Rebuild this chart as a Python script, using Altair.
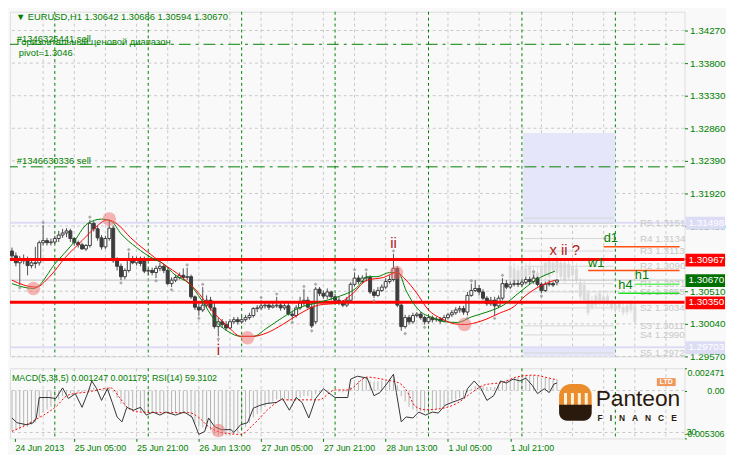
import altair as alt
import pandas as pd

GREEN = "#008000"
BG = "#f9f9f9"
FONT = "Liberation Sans"
W, H_MAIN, H_SUB = 683, 349, 71

# ---------------- time axis (bar index; 0 = 24 Jun 2013 13:00, H1 bars) ----------------
X_DOMAIN = [0.75, 171.5]
x_label_bars = [0.75, 16, 32, 48, 64, 80, 96, 112, 128]
x_labels = ["24 Jun 2013", "25 Jun 05:00", "25 Jun 21:00", "26 Jun 13:00", "27 Jun 05:00",
            "27 Jun 21:00", "28 Jun 13:00", "1 Jul 05:00", "1 Jul 21:00"]
grid_bars = [8, 16, 24, 32, 40, 48, 56, 64, 72, 80, 88, 96, 104, 112, 120, 128, 136, 144, 152, 160, 168]
day_bars = [11, 35, 59, 83, 107, 131, 155]

# ---------------- price axis ----------------
Y_DOMAIN = [1.2957, 1.3454]
price_ticks = [1.2957, 1.3004, 1.3051, 1.3098, 1.3145, 1.3192, 1.3239, 1.3286, 1.3333, 1.3380, 1.3427]

# ---------------- EURUSD H1 candles ----------------
opens = [1.3109, 1.3102, 1.3092, 1.3098, 1.3095, 1.3088, 1.3092, 1.3092, 1.3121, 1.3124,
         1.3121, 1.3122, 1.3127, 1.3132, 1.3135, 1.3138, 1.3127, 1.3121, 1.3118, 1.3112,
         1.3117, 1.3149, 1.3141, 1.3128, 1.3115, 1.3127, 1.3142, 1.3095, 1.3087, 1.3072,
         1.3081, 1.3098, 1.3092, 1.3097, 1.3098, 1.3080, 1.3081, 1.3078, 1.3084, 1.3087,
         1.3081, 1.3062, 1.3067, 1.3071, 1.3074, 1.3071, 1.3072, 1.3043, 1.3028, 1.3024,
         1.3031, 1.3038, 1.3027, 1.3000, 1.3007, 1.3003, 1.2998, 1.3007, 1.3010, 1.3007,
         1.3010, 1.3013, 1.3016, 1.3026, 1.3027, 1.3030, 1.3031, 1.3028, 1.3030, 1.3031,
         1.3027, 1.3030, 1.3018, 1.3016, 1.3027, 1.3034, 1.3038, 1.3028, 1.3007, 1.3054,
         1.3048, 1.3044, 1.3050, 1.3043, 1.3038, 1.3034, 1.3031, 1.3038, 1.3061, 1.3070,
         1.3065, 1.3070, 1.3071, 1.3050, 1.3045, 1.3052, 1.3057, 1.3065, 1.3068, 1.3084,
         1.3031, 1.3000, 1.3013, 1.3007, 1.3016, 1.3018, 1.3013, 1.3007, 1.3013, 1.3010,
         1.3011, 1.3008, 1.3013, 1.3017, 1.3020, 1.3024, 1.3026, 1.3021, 1.3045, 1.3052,
         1.3055, 1.3050, 1.3041, 1.3033, 1.3038, 1.3030, 1.3041, 1.3062, 1.3057, 1.3061,
         1.3062, 1.3061, 1.3064, 1.3068, 1.3065, 1.3070, 1.3061, 1.3052, 1.3061, 1.3062,
         1.30642]
highs = [1.3114, 1.3107, 1.3102, 1.3104, 1.3101, 1.3098, 1.3115, 1.3124, 1.3146, 1.3128,
         1.3127, 1.3131, 1.3138, 1.3141, 1.3142, 1.3141, 1.3129, 1.3124, 1.3121, 1.3119,
         1.3154, 1.3152, 1.3145, 1.3132, 1.3131, 1.3154, 1.3146, 1.3100, 1.3091, 1.3084,
         1.3107, 1.3102, 1.3101, 1.3101, 1.3101, 1.3084, 1.3085, 1.3088, 1.3092, 1.3090,
         1.3084, 1.3071, 1.3075, 1.3078, 1.3084, 1.3085, 1.3075, 1.3045, 1.3033, 1.3057,
         1.3045, 1.3043, 1.3035, 1.3013, 1.3011, 1.3008, 1.3011, 1.3014, 1.3014, 1.3016,
         1.3017, 1.3020, 1.3028, 1.3031, 1.3038, 1.3035, 1.3034, 1.3034, 1.3043, 1.3035,
         1.3034, 1.3034, 1.3022, 1.3031, 1.3043, 1.3054, 1.3043, 1.3033, 1.3057, 1.3057,
         1.3052, 1.3055, 1.3052, 1.3047, 1.3043, 1.3038, 1.3043, 1.3064, 1.3078, 1.3074,
         1.3074, 1.3078, 1.3074, 1.3054, 1.3057, 1.3061, 1.3070, 1.3074, 1.3105, 1.3087,
         1.3034, 1.3017, 1.3017, 1.3020, 1.3021, 1.3021, 1.3016, 1.3017, 1.3016, 1.3014,
         1.3014, 1.3017, 1.3020, 1.3024, 1.3028, 1.3030, 1.3030, 1.3050, 1.3062, 1.3067,
         1.3060, 1.3054, 1.3044, 1.3043, 1.3043, 1.3045, 1.3070, 1.3067, 1.3065, 1.3067,
         1.3067, 1.3068, 1.3072, 1.3072, 1.3075, 1.3072, 1.3064, 1.3065, 1.3067, 1.3065,
         1.30686]
lows = [1.3098, 1.3087, 1.3060, 1.3090, 1.3074, 1.3084, 1.3084, 1.3088, 1.3117, 1.3117,
        1.3117, 1.3119, 1.3122, 1.3128, 1.3129, 1.3122, 1.3117, 1.3114, 1.3111, 1.3109,
        1.3114, 1.3137, 1.3124, 1.3111, 1.3112, 1.3124, 1.3092, 1.3081, 1.3067, 1.3068,
        1.3078, 1.3090, 1.3088, 1.3087, 1.3077, 1.3074, 1.3074, 1.3070, 1.3080, 1.3077,
        1.3060, 1.3057, 1.3064, 1.3068, 1.3067, 1.3067, 1.3040, 1.3024, 1.3016, 1.3021,
        1.3027, 1.3023, 1.2997, 1.2986, 1.2998, 1.2994, 1.2996, 1.3004, 1.3003, 1.3004,
        1.3007, 1.3010, 1.3013, 1.3021, 1.3024, 1.3026, 1.3024, 1.3026, 1.3027, 1.3023,
        1.3024, 1.3016, 1.3010, 1.3013, 1.3024, 1.3030, 1.3026, 1.2998, 1.3004, 1.3044,
        1.3040, 1.3040, 1.3038, 1.3034, 1.3031, 1.3028, 1.3028, 1.3035, 1.3058, 1.3061,
        1.3062, 1.3065, 1.3047, 1.3041, 1.3043, 1.3050, 1.3054, 1.3062, 1.3065, 1.3028,
        1.2994, 1.2997, 1.3003, 1.3004, 1.3013, 1.3010, 1.3003, 1.3004, 1.3006, 1.3007,
        1.3004, 1.3006, 1.3010, 1.3014, 1.3017, 1.3020, 1.3017, 1.3016, 1.3043, 1.3050,
        1.3045, 1.3038, 1.3030, 1.3030, 1.3016, 1.3027, 1.3038, 1.3054, 1.3054, 1.3058,
        1.3057, 1.3058, 1.3061, 1.3061, 1.3062, 1.3058, 1.3048, 1.3050, 1.3058, 1.3057,
        1.30594]
closes = [1.3102, 1.3092, 1.3098, 1.3095, 1.3088, 1.3092, 1.3091, 1.3121, 1.3124, 1.3121,
          1.3122, 1.3127, 1.3132, 1.3135, 1.3138, 1.3127, 1.3121, 1.3118, 1.3112, 1.3117,
          1.3149, 1.3141, 1.3128, 1.3115, 1.3127, 1.3142, 1.3095, 1.3087, 1.3072, 1.3081,
          1.3098, 1.3092, 1.3097, 1.3091, 1.3080, 1.3081, 1.3078, 1.3084, 1.3087, 1.3081,
          1.3062, 1.3067, 1.3071, 1.3074, 1.3071, 1.3072, 1.3043, 1.3028, 1.3024, 1.3031,
          1.3038, 1.3027, 1.3000, 1.3007, 1.3003, 1.2998, 1.3007, 1.3010, 1.3007, 1.3010,
          1.3013, 1.3016, 1.3026, 1.3027, 1.3030, 1.3031, 1.3028, 1.3030, 1.3031, 1.3027,
          1.3030, 1.3018, 1.3016, 1.3027, 1.3034, 1.3038, 1.3028, 1.3001, 1.3054, 1.3048,
          1.3044, 1.3050, 1.3043, 1.3038, 1.3034, 1.3031, 1.3038, 1.3061, 1.3070, 1.3065,
          1.3070, 1.3071, 1.3050, 1.3045, 1.3052, 1.3057, 1.3065, 1.3068, 1.3084, 1.3031,
          1.3000, 1.3013, 1.3007, 1.3016, 1.3018, 1.3013, 1.3007, 1.3013, 1.3010, 1.3011,
          1.3008, 1.3013, 1.3017, 1.3020, 1.3024, 1.3026, 1.3021, 1.3045, 1.3052, 1.3055,
          1.3050, 1.3041, 1.3033, 1.3038, 1.3030, 1.3041, 1.3062, 1.3057, 1.3061, 1.3062,
          1.3061, 1.3064, 1.3068, 1.3065, 1.3070, 1.3061, 1.3052, 1.3061, 1.3062, 1.3060,
          1.30670]

# ---------------- projected (ghost) candles ----------------
ghost_bars = [128, 129, 130, 131, 132, 133, 134, 135, 136, 137, 138, 139, 140, 141, 142, 143, 144,
              145, 146, 147, 148, 149, 150, 151, 152, 153, 154, 155, 156, 157, 158, 159, 160]
ghost_body_hi = [1.3088, 1.3084, 1.3081, 1.3084, 1.3084, 1.3087, 1.3081, 1.3078, 1.3087, 1.3092, 1.3095,
                 1.3092, 1.3095, 1.3092, 1.3092, 1.3090, 1.3087, 1.3084, 1.3064, 1.3060, 1.3048, 1.3038,
                 1.3045, 1.3048, 1.3043, 1.3044, 1.3034, 1.3031, 1.3033, 1.3028, 1.3030, 1.3034, 1.3030]
ghost_body_lo = [1.3070, 1.3062, 1.3067, 1.3070, 1.3072, 1.3074, 1.3070, 1.3064, 1.3072, 1.3074, 1.3072,
                 1.3081, 1.3077, 1.3072, 1.3067, 1.3071, 1.3074, 1.3067, 1.3043, 1.3038, 1.3020, 1.3028,
                 1.3031, 1.3034, 1.3033, 1.3034, 1.3027, 1.3024, 1.3026, 1.3020, 1.3021, 1.3024, 1.3007]
ghost_high = [1.3098, 1.3092, 1.3088, 1.3092, 1.3092, 1.3095, 1.3088, 1.3087, 1.3095, 1.3098, 1.3102,
              1.3098, 1.3101, 1.3098, 1.3098, 1.3095, 1.3092, 1.3092, 1.3070, 1.3067, 1.3052, 1.3044,
              1.3048, 1.3052, 1.3047, 1.3048, 1.3038, 1.3035, 1.3038, 1.3034, 1.3035, 1.3038, 1.3035]
ghost_low = [1.3064, 1.3060, 1.3062, 1.3065, 1.3067, 1.3068, 1.3065, 1.3061, 1.3068, 1.3067, 1.3067,
             1.3074, 1.3070, 1.3067, 1.3062, 1.3067, 1.3064, 1.3061, 1.3038, 1.3034, 1.3016, 1.3024,
             1.3027, 1.3030, 1.3027, 1.3030, 1.3023, 1.3020, 1.3021, 1.3016, 1.3017, 1.3020, 1.3003]

# ---------------- moving averages ----------------
ma_fast_bar = [0, 5.5, 11.25, 15.5, 19.5, 23, 25.5, 28, 32, 36.25, 38.75, 42, 45.5, 48.75, 52, 55.5,
               58.75, 62, 65.5, 69.5, 73.75, 78.75, 83.75, 88.75, 91.25, 93.75, 97, 99.25, 101.25,
               104.5, 108, 111.25, 114.5, 118, 122, 126.25, 130.5, 134.5, 139.5]
ma_fast_val = [1.3062, 1.3055, 1.3092, 1.3119, 1.3149, 1.3155, 1.3152, 1.3134, 1.3114, 1.3098,
               1.3091, 1.3074, 1.3062, 1.3038, 1.3010, 1.2993, 1.2986, 1.2986, 1.2998, 1.3013,
               1.3027, 1.3035, 1.3043, 1.3057, 1.3072, 1.3072, 1.3078, 1.3078, 1.3052, 1.3024,
               1.3013, 1.3007, 1.3006, 1.3014, 1.3021, 1.3031, 1.3050, 1.3067, 1.3080]
ma_slow_bar = [0, 3, 6.25, 9.5, 13.75, 18, 21.25, 24.5, 27, 30.5, 34.5, 38.75, 43.75, 48, 51.25, 55.5,
               58.75, 62, 65.5, 69.5, 73.75, 78.75, 83.75, 87, 91.25, 95.5, 98.75, 101.25, 103.75,
               107, 110.5, 113.75, 116.25, 120.5, 125.5, 128.75, 132, 136.25, 139.5]
ma_slow_val = [1.3067, 1.3060, 1.3057, 1.3071, 1.3100, 1.3124, 1.3142, 1.3154, 1.3148, 1.3128,
               1.3109, 1.3091, 1.3071, 1.3048, 1.3024, 1.3000, 1.2986, 1.2986, 1.2991, 1.3003,
               1.3018, 1.3031, 1.3034, 1.3045, 1.3067, 1.3071, 1.3078, 1.3067, 1.3050, 1.3024,
               1.3011, 1.3004, 1.3003, 1.3008, 1.3020, 1.3028, 1.3045, 1.3060, 1.3067]

# ---------------- fractals ----------------
up_fr_bar = [8, 20, 30, 45, 49, 64, 68, 75, 78, 88, 91, 98, 118, 126, 134]
up_fr_val = [1.3150, 1.3158, 1.3111, 1.3089, 1.3061, 1.3042, 1.3047, 1.3058, 1.3061, 1.3082,
             1.3082, 1.3109, 1.3066, 1.3074, 1.3079]
dn_fr_bar = [2, 28, 37, 41, 48, 53, 72, 77, 93, 101, 106, 117, 124, 136]
dn_fr_val = [1.3056, 1.3063, 1.3066, 1.3053, 1.3012, 1.2982, 1.3006, 1.2994, 1.3037, 1.2990,
             1.2999, 1.3012, 1.3012, 1.3044]

# ---------------- swing highlights ----------------
swing_bar = [5.5, 25, 60.5, 98.75, 116.25]
swing_val = [1.3055, 1.3155, 1.2984, 1.3078, 1.3003]

# ---------------- levels ----------------
red_levels = [1.30967, 1.30350]
lavender_levels = [1.31498, 1.29703]
bid_level = 1.30670
order_levels = [1.34071, 1.32304]
pivot_names = ["R5 1.3151", "R4 1.3134", "R3 1.3113", "R2 1.3090", "R1 1.3071",
               "S1 1.3055", "S2 1.3034", "S3 1.3011", "S4 1.2990", "S5 1.2972"]
pivot_vals = [1.3149, 1.3127, 1.3109, 1.3087, 1.3062, 1.3050, 1.3027, 1.3001, 1.2988, 1.2962]
seg_names = ["d1", "w1", "h1", "h4"]
seg_start = [152, 148, 160, 155.75]
seg_val = [1.3115, 1.3081, 1.3061, 1.3048]
seg_label_val = [1.3127, 1.3092, 1.3074, 1.3060]
seg_colors = ["#ff5010", "#ff5010", "#66ee66", "#22dd22"]
box_vals = [1.31498, 1.30967, 1.30670, 1.30350, 1.29703]
box_text = ["1.31498", "1.30967", "1.30670", "1.30350", "1.29703"]
box_colors = ["#dcdcf4", "#ff0000", "#007000", "#ff0000", "#dcdcf4"]

# ---------------- MACD(5,34,5) / RSI(14) sub-window ----------------
macd_hist = [-0.0045, -0.0044, -0.0043, -0.0041, -0.0040, -0.0038, -0.0035, -0.0030, -0.0025, -0.0021,
             -0.0018, -0.0014, -0.0010, -0.0006, -0.0004, -0.0003, -0.0003, -0.0003, -0.0002, 0.0001,
             0.0003, 0.0003, 0.0002, 0.0001, 0.0002, 0.0004, -0.0002, -0.0008, -0.0015, -0.0018,
             -0.0018, -0.0020, -0.0021, -0.0023, -0.0025, -0.0025, -0.0025, -0.0025, -0.0024, -0.0024,
             -0.0026, -0.0026, -0.0025, -0.0024, -0.0024, -0.0025, -0.0030, -0.0036, -0.0040, -0.0041,
             -0.0042, -0.0044, -0.0049, -0.0050, -0.0050, -0.0050, -0.0049, -0.0048, -0.0046, -0.0043,
             -0.0040, -0.0036, -0.0030, -0.0026, -0.0022, -0.0018, -0.0015, -0.0012, -0.0010, -0.0009,
             -0.0009, -0.0011, -0.0012, -0.0010, -0.0008, -0.0006, -0.0006, -0.0010, -0.0004, -0.0002,
             -0.0001, 0.0000, 0.0000, 0.0000, -0.0001, -0.0002, -0.0001, 0.0004, 0.0009, 0.0011,
             0.0013, 0.0014, 0.0011, 0.0010, 0.0010, 0.0011, 0.0012, 0.0013, 0.0015, 0.0006,
             -0.0006, -0.0012, -0.0018, -0.0021, -0.0022, -0.0023, -0.0024, -0.0023, -0.0022, -0.0021,
             -0.0019, -0.0017, -0.0015, -0.0012, -0.0010, -0.0008, -0.0007, -0.0002, 0.0002, 0.0005,
             0.0006, 0.0005, 0.0004, 0.0004, 0.0004, 0.0006, 0.0010, 0.0012, 0.0013, 0.0014,
             0.0015, 0.0016, 0.0017, 0.0017, 0.0017, 0.0016, 0.0014, 0.0014, 0.0013, 0.0012,
             0.001247]
signal_bar = [0, 7, 11.25, 14.5, 19.5, 25.5, 27.5, 29.5, 32, 38, 45.5, 48, 50.5, 53.75, 58.75, 62,
              66.25, 69.5, 78.75, 83, 86.25, 91.25, 96.25, 99.5, 101.25, 103.75, 106.25, 111.25,
              114.5, 118, 121.25, 126.25, 129.5, 133.75, 138, 140]
signal_val = [-0.00453, -0.00300, -0.00180, -0.00048, -0.00015, 0.00028, -0.00070, -0.00180, -0.00234,
              -0.00245, -0.00245, -0.00300, -0.00399, -0.00464, -0.00486, -0.00377, -0.00191, -0.00103,
              -0.00103, 0.00007, 0.00007, 0.00149, 0.00116, 0.00083, 0.00007, -0.00180, -0.00213,
              -0.00191, -0.00136, -0.00026, 0.00061, 0.00094, 0.00149, 0.00171, 0.00138, 0.001179]
rsi_bar = [0, 1.25, 3.75, 5.5, 6.25, 7, 9.5, 11.25, 13, 14.5, 16.25, 18, 19.5, 20.5, 21.75, 23, 24.5,
           25.75, 27, 28.25, 29.5, 31.25, 33, 34.5, 36.25, 38, 39.5, 42, 44.25, 46.25, 48, 49.5, 50.5,
           52, 53.75, 56.25, 57, 58.75, 60.5, 62, 63.75, 65.5, 68, 69.5, 71.25, 73, 74.5, 76.25, 78,
           80, 81.25, 83, 86.25, 87, 88.75, 91.25, 93, 94.5, 96.25, 98, 98.75, 100, 101.25, 103,
           104.5, 106.25, 108, 109.5, 111.25, 113, 114.5, 116.25, 117, 118.75, 120.5, 122, 123.75,
           125.5, 127, 128.75, 130.5, 132, 133.75, 135, 136.75, 138, 139.25, 140]
rsi_val = [38.6, 35.8, 34.6, 35.8, 38.6, 50.7, 50.7, 50.1, 56.4, 50.1, 53.0, 44.9, 53.6, 60.5, 55.9,
           49.0, 55.9, 47.8, 39.2, 36.3, 44.9, 43.2, 44.9, 40.3, 42.1, 40.3, 42.1, 40.3, 42.1, 39.2,
           28.9, 30.6, 38.6, 33.5, 31.7, 31.7, 30.0, 34.6, 35.8, 44.4, 46.1, 47.2, 47.8, 50.1, 43.2,
           50.7, 47.8, 38.6, 50.1, 55.9, 53.6, 50.7, 50.7, 61.6, 63.3, 62.2, 51.8, 53.6, 58.7, 64.5,
           53.6, 36.3, 39.2, 38.6, 42.1, 40.3, 42.1, 41.5, 46.1, 47.8, 49.0, 50.7, 55.9, 60.5, 55.9,
           49.0, 51.8, 60.5, 59.3, 61.6, 60.5, 62.2, 57.6, 53.0, 55.9, 53.6, 58.7, 59.31]
MACD_DOMAIN = [-0.005306, 0.002471]
RSI_DOMAIN = [26.5, 68.0]     # RSI range covered by the same sub-window height
macd_ticks = [-0.005306, 0.0, 0.002471]

# =====================================================================
xs = alt.Scale(domain=X_DOMAIN, nice=False, zero=False)
ys = alt.Scale(domain=Y_DOMAIN, nice=False, zero=False)
ms = alt.Scale(domain=MACD_DOMAIN, nice=False, zero=False)

RSI_TO_MACD = ("%r + (datum.r - %r) / %r * %r" %
               (MACD_DOMAIN[0], RSI_DOMAIN[0], RSI_DOMAIN[1] - RSI_DOMAIN[0],
                MACD_DOMAIN[1] - MACD_DOMAIN[0]))

AX_PRICE = alt.Axis(orient="right", values=price_ticks, format=".5f", title=None,
                    labelColor=GREEN, tickColor=GREEN, tickSize=3, labelPadding=2,
                    labelFontSize=10, labelFont=FONT, domain=False, grid=False,
                    labelOverlap=False, labelFlush=False)
xlab_expr = "[" + ",".join("'%s'" % s for s in x_labels) + "][round(datum.value / 16)]"
AX_TIME = alt.Axis(values=x_label_bars, labelExpr=xlab_expr, labelAlign="left",
                   labelColor=GREEN, tickColor=GREEN, tickSize=3, labelPadding=2,
                   labelFontSize=9, labelFont=FONT, domain=False, grid=False,
                   labelOverlap=False, labelFlush=False, title=None)
macd_expr = ("datum.value < 0 ? '-0.005306' : (datum.value > 0 ? '0.002471' : '0.00"
             + "\u00a0" * 9 + "')")
AX_MACD = alt.Axis(orient="right", values=macd_ticks, labelExpr=macd_expr,
                   labelAlign="right", labelColor=GREEN, tickColor=GREEN,
                   tickSize=2, labelPadding=38, labelFontSize=9, labelFont=FONT,
                   domain=False, grid=False, labelOverlap=False,
                   labelFlush=True, title=None)


def XM(f):   # x in the price window (no axis drawn)
    return alt.X(f, type="quantitative", scale=xs, axis=None)


def XS(f):   # x in the sub window (time axis)
    return alt.X(f, type="quantitative", scale=xs, axis=AX_TIME)


def Y(f):
    return alt.Y(f, type="quantitative", scale=ys, axis=AX_PRICE)


def M(f):
    return alt.Y(f, type="quantitative", scale=ms, axis=AX_MACD)


candles = pd.DataFrame({"i": list(range(len(closes))), "o": opens, "h": highs, "l": lows, "c": closes})
ghost = pd.DataFrame({"i": ghost_bars, "bh": ghost_body_hi, "bl": ghost_body_lo,
                      "h": ghost_high, "l": ghost_low})
grid_df = pd.DataFrame({"g": grid_bars})
day_df = pd.DataFrame({"g": day_bars})

# ---------------- price window ----------------
vgrid = alt.Chart(grid_df).mark_rule(color="#c8c8c8", strokeDash=[3, 3], strokeWidth=1).encode(x=XM("g"))
dayline = alt.Chart(day_df).mark_rule(color=GREEN, strokeDash=[3, 3], strokeWidth=1).encode(x=XM("g"))
hgrid = alt.Chart(pd.DataFrame({"p": price_ticks})).mark_rule(
    color="#c8c8c8", strokeDash=[3, 3], strokeWidth=1).encode(y=Y("p"))

lav_rect = alt.Chart(pd.DataFrame({"x1": [131.25, 131.25], "x2": [155, 155],
                                   "y1": [1.32793, 1.2957], "y2": [1.31498, 1.29703]})).mark_rect(
    color="#e6e6fa").encode(x=XM("x1"), x2="x2", y=Y("y1"), y2="y2")
lav_lines = alt.Chart(pd.DataFrame({"p": lavender_levels})).mark_rule(
    color="#dcdcf4", strokeWidth=2).encode(y=Y("p"))
piv_df = pd.DataFrame({"p": pivot_vals + [1.31564], "a": [131.5] * 11, "b": [154.5] * 11})
pivot_lines = alt.Chart(piv_df).mark_rule(color="#d6d6d6", strokeWidth=1).encode(
    x=XM("a"), x2="b", y=Y("p"))
pivot_text = alt.Chart(pd.DataFrame({"p": pivot_vals, "t": pivot_names, "a": [161.3] * 10})).mark_text(
    align="left", baseline="middle", color="#c8c8c8", fontSize=10, font=FONT).encode(
    x=XM("a"), y=Y("p"), text="t:N")

ghost_wick = alt.Chart(ghost).mark_rule(color="#dadada").encode(x=XM("i"), y=Y("l"), y2="h")
ghost_body = alt.Chart(ghost).mark_bar(width=3, color="#dadada").encode(x=XM("i"), y=Y("bl"), y2="bh")

bid_line = alt.Chart(pd.DataFrame({"p": [bid_level]})).mark_rule(color="#c0c0c0").encode(y=Y("p"))
order_lines = alt.Chart(pd.DataFrame({"p": order_levels})).mark_rule(
    color=GREEN, strokeDash=[12, 5, 3, 5], strokeWidth=1).encode(y=Y("p"))

wick = alt.Chart(candles).mark_rule(color="#505050").encode(x=XM("i"), y=Y("l"), y2="h")
body = alt.Chart(candles).mark_bar(width=3, stroke="#3c3c3c", strokeWidth=1).encode(
    x=XM("i"), y=Y("o"), y2="c",
    color=alt.condition("datum.c >= datum.o", alt.value("#ffffff"), alt.value("#3c3c3c")))

red_lines = alt.Chart(pd.DataFrame({"p": red_levels})).mark_rule(
    color="#ff0000", strokeWidth=3).encode(y=Y("p"))
seg_df = pd.DataFrame({"s": seg_start, "e": [171.5] * 4, "p": seg_val, "lp": seg_label_val,
                       "t": seg_names, "c": seg_colors})
seg_lines = alt.Chart(seg_df).mark_rule(strokeWidth=1.5).encode(
    x=XM("s"), x2="e", y=Y("p"), color=alt.Color("c:N", scale=None))
seg_text = alt.Chart(seg_df).mark_text(align="left", baseline="middle", color=GREEN,
                                       fontSize=13, font=FONT).encode(x=XM("s"), y=Y("lp"), text="t:N")

ma_fast = alt.Chart(pd.DataFrame({"i": ma_fast_bar, "v": ma_fast_val})).mark_line(
    color="#008000", strokeWidth=1, interpolate="monotone").encode(x=XM("i"), y=Y("v"))
ma_slow = alt.Chart(pd.DataFrame({"i": ma_slow_bar, "v": ma_slow_val})).mark_line(
    color="#ff0000", strokeWidth=1, interpolate="monotone").encode(x=XM("i"), y=Y("v"))

swings = alt.Chart(pd.DataFrame({"i": swing_bar, "v": swing_val})).mark_circle(
    size=190, color="#f07070", opacity=0.5).encode(x=XM("i"), y=Y("v"))
fr_up = alt.Chart(pd.DataFrame({"i": up_fr_bar, "v": up_fr_val})).mark_point(
    shape="diamond", size=14, filled=True, color="#8c8c8c").encode(x=XM("i"), y=Y("v"))
fr_dn = alt.Chart(pd.DataFrame({"i": dn_fr_bar, "v": dn_fr_val})).mark_point(
    shape="diamond", size=14, filled=True, color="#8c8c8c").encode(x=XM("i"), y=Y("v"))

wave_df = pd.DataFrame({"i": [98, 53, 142.0], "v": [1.3120, 1.2966, 1.3111], "t": ["ii", "i", "x ii ?"]})
wave_text = alt.Chart(wave_df).mark_text(baseline="middle", align="center", color="#b02020",
                                         fontSize=15, font=FONT).encode(x=XM("i"), y=Y("v"), text="t:N")
wave_mark = alt.Chart(pd.DataFrame({"i": [53], "a": [1.2980], "b": [1.2972]})).mark_rule(
    color="#cc2020", strokeDash=[1, 2]).encode(x=XM("i"), y=Y("a"), y2="b")

info_df = pd.DataFrame({
    "i": [1.0, 1.25, 1.25, 1.75, 1.25],
    "v": [1.34469, 1.34142, 1.34100, 1.33942, 1.32390],
    "t": ["\u25bc EURUSD,H1  1.30642 1.30686 1.30594 1.30670", "#1346326441 sell",
          "\u0413\u043e\u0440\u0438\u0437\u043e\u043d\u0442\u0430\u043b\u044c\u043d\u044b\u0439 \u0446\u0435\u043d\u043e\u0432\u043e\u0439 \u0434\u0438\u0430\u043f\u0430\u0437\u043e\u043d",
          "pivot=1.3046", "#1346630336 sell"]})
info_text = alt.Chart(info_df).mark_text(align="left", baseline="middle", color=GREEN,
                                         fontSize=9.5, font=FONT).encode(x=XM("i"), y=Y("v"), text="t:N")

box_df = pd.DataFrame({"p": box_vals, "t": box_text, "c": box_colors})
boxes = alt.Chart(box_df).mark_rect(clip=False, yOffset=-6, y2Offset=7).encode(
    x=alt.value(W + 1), x2=alt.value(W + 41), y=Y("p"), y2="p", color=alt.Color("c:N", scale=None))
box_txt = alt.Chart(box_df).mark_text(clip=False, align="left", baseline="middle", color="white",
                                      fontSize=10, font=FONT).encode(x=alt.value(W + 4), y=Y("p"), text="t:N")

main = alt.layer(hgrid, vgrid, dayline, lav_rect, lav_lines, pivot_lines, pivot_text, ghost_wick,
                 ghost_body, bid_line, order_lines, wick, body, red_lines, seg_lines, seg_text,
                 ma_fast, ma_slow, swings, fr_up, fr_dn, wave_text, wave_mark, info_text,
                 boxes, box_txt).properties(width=W, height=H_MAIN)

# ---------------- sub window ----------------
hist_df = pd.DataFrame({"i": list(range(len(macd_hist))), "m": macd_hist, "z": [0.0] * len(macd_hist)})
hist = alt.Chart(hist_df).mark_bar(width=1, color="#b4b4b4").encode(x=XS("i"), y=M("m"), y2="z")
s_vgrid = alt.Chart(grid_df).mark_rule(color="#c8c8c8", strokeDash=[3, 3]).encode(x=XS("g"))
s_day = alt.Chart(day_df).mark_rule(color=GREEN, strokeDash=[3, 3]).encode(x=XS("g"))
zero_line = alt.Chart(pd.DataFrame({"m": [0.0]})).mark_rule(color="#c8c8c8", strokeDash=[3, 3]).encode(
    y=M("m"))
rsi30 = alt.Chart(pd.DataFrame({"r": [30.0]})).transform_calculate(m=RSI_TO_MACD).mark_rule(
    color="#c8c8c8", strokeDash=[3, 3]).encode(y=M("m"))
signal = alt.Chart(pd.DataFrame({"i": signal_bar, "m": signal_val})).mark_line(
    color="#ff0000", strokeDash=[2, 2], strokeWidth=1, interpolate="monotone").encode(x=XS("i"), y=M("m"))
rsi = alt.Chart(pd.DataFrame({"i": rsi_bar, "r": rsi_val})).transform_calculate(m=RSI_TO_MACD).mark_line(
    color="#333333", strokeWidth=1).encode(x=XS("i"), y=M("m"))
rsi_swing = alt.Chart(pd.DataFrame({"i": [53], "r": [31.2]})).transform_calculate(m=RSI_TO_MACD).mark_circle(
    size=190, color="#f07070", opacity=0.5).encode(x=XS("i"), y=M("m"))
rsi_lab = alt.Chart(pd.DataFrame({"r": [30.0], "t": ["30"]})).transform_calculate(m=RSI_TO_MACD).mark_text(
    clip=False, align="left", baseline="middle", color=GREEN, fontSize=9, font=FONT).encode(
    x=alt.value(W + 2), y=M("m"), text="t:N")
sub_head = alt.Chart(pd.DataFrame({"t": ["MACD(5,34,5) 0.001247 0.001179\u00a0\u00a0RSI(14) 59.3102"]})).mark_text(
    align="left", baseline="middle", color=GREEN, fontSize=9, font=FONT).encode(
    x=alt.value(2), y=alt.value(10), text="t:N")

one = pd.DataFrame({"k": [0]})
logo_orange = alt.Chart(one).mark_rect(color="#eb8d2c", cornerRadiusTopLeft=14,
                                       cornerRadiusTopRight=14).encode(
    x=alt.value(556), x2=alt.value(589), y=alt.value(16), y2=alt.value(40))
logo_cols = [alt.Chart(one).mark_rect(color="#fff3e0").encode(
    x=alt.value(a), x2=alt.value(a + 3), y=alt.value(25), y2=alt.value(37)) for a in (561, 568, 575, 582)]
logo_dark = alt.Chart(one).mark_rect(color="#2a1a0e", cornerRadiusBottomLeft=8,
                                     cornerRadiusBottomRight=8).encode(
    x=alt.value(556), x2=alt.value(589), y=alt.value(37), y2=alt.value(53))
logo_word = alt.Chart(pd.DataFrame({"t": ["Panteon"]})).mark_text(
    align="left", baseline="middle", color="#2a1a0e", fontSize=23, font=FONT).encode(
    x=alt.value(593), y=alt.value(31), text="t:N")
logo_fin = alt.Chart(pd.DataFrame({"t": ["F\u00a0\u00a0\u00a0I\u00a0\u00a0\u00a0N\u00a0\u00a0\u00a0A\u00a0\u00a0\u00a0N\u00a0\u00a0\u00a0C\u00a0\u00a0\u00a0E"]})).mark_text(
    align="left", baseline="middle", color="#2a1a0e", fontSize=8.5, fontWeight="bold", font=FONT).encode(
    x=alt.value(595), y=alt.value(50), text="t:N")
logo_ltd_box = alt.Chart(one).mark_rect(color="#f0965a").encode(
    x=alt.value(655), x2=alt.value(674), y=alt.value(10), y2=alt.value(18))
logo_ltd = alt.Chart(pd.DataFrame({"t": ["LTD"]})).mark_text(
    align="center", baseline="middle", color="white", fontSize=7, fontWeight="bold", font=FONT).encode(
    x=alt.value(664.5), y=alt.value(14), text="t:N")

sub = alt.layer(hist, s_vgrid, s_day, zero_line, rsi30, signal, rsi, rsi_swing, rsi_lab, sub_head,
                logo_orange, *logo_cols, logo_dark, logo_word, logo_fin, logo_ltd_box, logo_ltd
                ).properties(width=W, height=H_SUB)

chart = alt.vconcat(main, sub, spacing=5).properties(
    background=BG, padding={"left": 0, "top": 0, "right": 0, "bottom": 0}
).configure_view(stroke=GREEN, strokeWidth=1, fill=BG).configure(font=FONT)

chart.save("out.html", embed_options={"renderer": "svg", "actions": False})
